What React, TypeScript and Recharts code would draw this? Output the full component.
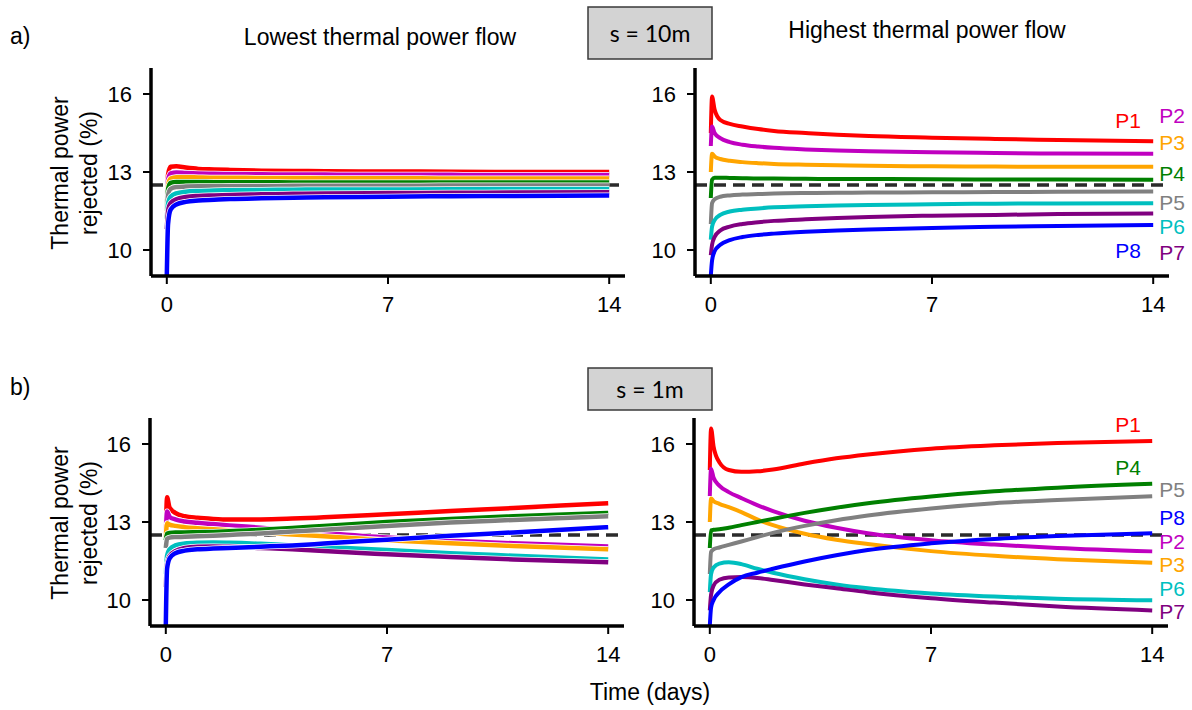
import { LineChart, Line, XAxis, YAxis, ReferenceLine } from 'recharts';

// time points (days) shared by every curve
const days = [0, 0.04, 0.12, 0.3, 0.6, 1, 1.5, 2, 3, 4, 5, 7, 9, 11, 14];

const seriesNames = ['P1', 'P2', 'P3', 'P4', 'P5', 'P6', 'P7', 'P8'];
const seriesColors = ['#ff0000', '#c000c0', '#ffa500', '#008000', '#808080', '#00bfbf', '#800080', '#0000ff'];

const xTicks = [0, 7, 14];
const yTicks = [10, 13, 16];
const threshold = 12.5;

// a) s = 10m, lowest thermal power flow
const tenLow = [
  [12.0, 12.9, 13.2, 13.22, 13.17, 13.12, 13.1, 13.08, 13.05, 13.04, 13.03, 13.02, 13.01, 13.0, 13.0],
  [11.9, 12.7, 12.95, 12.98, 12.96, 12.94, 12.93, 12.92, 12.91, 12.9, 12.9, 12.89, 12.89, 12.88, 12.88],
  [11.8, 12.5, 12.75, 12.8, 12.8, 12.79, 12.78, 12.78, 12.77, 12.77, 12.76, 12.76, 12.75, 12.75, 12.75],
  [11.7, 12.35, 12.58, 12.62, 12.62, 12.62, 12.61, 12.61, 12.61, 12.6, 12.6, 12.6, 12.6, 12.6, 12.6],
  [11.5, 12.1, 12.35, 12.42, 12.44, 12.45, 12.45, 12.46, 12.46, 12.47, 12.47, 12.47, 12.48, 12.48, 12.48],
  [11.2, 11.8, 12.05, 12.18, 12.24, 12.27, 12.29, 12.3, 12.31, 12.32, 12.33, 12.33, 12.34, 12.35, 12.35],
  [10.8, 11.5, 11.8, 11.95, 12.04, 12.08, 12.1, 12.12, 12.14, 12.16, 12.17, 12.19, 12.2, 12.21, 12.22],
  [9.0, 11.0, 11.55, 11.75, 11.85, 11.9, 11.93, 11.96, 11.99, 12.01, 12.03, 12.05, 12.07, 12.08, 12.1],
];

// a) s = 10m, highest thermal power flow
const tenHigh = [
  [14.5, 15.9, 15.4, 15.0, 14.85, 14.75, 14.65, 14.58, 14.5, 14.43, 14.38, 14.32, 14.27, 14.23, 14.18],
  [14.0, 14.75, 14.5, 14.3, 14.15, 14.05, 13.98, 13.93, 13.87, 13.83, 13.8, 13.76, 13.73, 13.71, 13.7],
  [13.0, 13.7, 13.6, 13.5, 13.43, 13.38, 13.34, 13.31, 13.28, 13.26, 13.24, 13.22, 13.21, 13.2, 13.2],
  [12.0, 12.7, 12.78, 12.78, 12.77, 12.76, 12.75, 12.75, 12.74, 12.73, 12.73, 12.72, 12.71, 12.71, 12.7],
  [11.0, 11.8, 11.95, 12.05, 12.1, 12.13, 12.15, 12.17, 12.19, 12.2, 12.21, 12.22, 12.23, 12.24, 12.25],
  [10.4, 10.9, 11.15, 11.35, 11.48, 11.55, 11.6, 11.64, 11.68, 11.71, 11.73, 11.76, 11.78, 11.79, 11.8],
  [9.8, 10.2, 10.5, 10.75, 10.9, 11.0, 11.07, 11.12, 11.18, 11.23, 11.27, 11.32, 11.35, 11.38, 11.4],
  [9.0, 9.6, 9.95, 10.2, 10.38, 10.5, 10.58, 10.63, 10.7, 10.75, 10.79, 10.85, 10.89, 10.92, 10.96],
];

// b) s = 1m, lowest thermal power flow
const oneLow = [
  [12.5, 13.95, 13.55, 13.35, 13.22, 13.16, 13.12, 13.1, 13.1, 13.13, 13.18, 13.3, 13.42, 13.54, 13.72],
  [12.5, 13.4, 13.2, 13.1, 13.02, 12.97, 12.92, 12.87, 12.78, 12.68, 12.58, 12.4, 12.28, 12.18, 12.06],
  [12.4, 12.95, 12.9, 12.85, 12.8, 12.76, 12.72, 12.68, 12.6, 12.52, 12.45, 12.3, 12.18, 12.08, 11.95],
  [12.3, 12.55, 12.58, 12.6, 12.6, 12.61, 12.62, 12.64, 12.7, 12.77, 12.85, 13.0, 13.12, 13.22, 13.35],
  [12.0, 12.35, 12.4, 12.42, 12.43, 12.45, 12.47, 12.5, 12.56, 12.63, 12.7, 12.85, 12.98, 13.08, 13.22],
  [11.0, 11.7, 11.95, 12.1, 12.17, 12.2, 12.21, 12.2, 12.16, 12.1, 12.04, 11.92, 11.8, 11.7, 11.56],
  [10.5, 11.4, 11.7, 11.88, 12.0, 12.05, 12.06, 12.05, 12.0, 11.95, 11.88, 11.76, 11.65, 11.56, 11.45],
  [9.0, 11.2, 11.6, 11.8, 11.9, 11.95, 11.98, 12.0, 12.05, 12.1, 12.17, 12.32, 12.47, 12.6, 12.8],
];

// b) s = 1m, highest thermal power flow
const oneHigh = [
  [15.0, 16.6, 15.9, 15.3, 15.0, 14.93, 14.95, 15.02, 15.25, 15.45, 15.6, 15.82, 15.95, 16.04, 16.12],
  [14.0, 15.05, 14.7, 14.4, 14.15, 13.92, 13.65, 13.42, 13.05, 12.78, 12.57, 12.3, 12.13, 12.0, 11.87],
  [13.0, 13.9, 13.8, 13.7, 13.57, 13.38, 13.1, 12.88, 12.55, 12.32, 12.15, 11.88, 11.7, 11.57, 11.43],
  [12.0, 12.68, 12.7, 12.72, 12.78, 12.88, 13.0, 13.12, 13.35, 13.55, 13.72, 13.98, 14.18, 14.32, 14.47],
  [11.0, 11.85, 11.95, 12.02, 12.12, 12.25, 12.42, 12.58, 12.85, 13.07, 13.25, 13.52, 13.72, 13.85, 13.99],
  [10.3, 11.0, 11.25, 11.4, 11.45, 11.38, 11.2, 11.05, 10.8, 10.6, 10.45, 10.25, 10.13, 10.05, 9.99],
  [9.6, 10.2, 10.55, 10.78, 10.87, 10.88, 10.85, 10.77, 10.6, 10.45, 10.3, 10.07, 9.9, 9.75, 9.6],
  [9.0, 9.7, 10.0, 10.3, 10.6, 10.88, 11.05, 11.2, 11.48, 11.72, 11.92, 12.18, 12.35, 12.46, 12.57],
];

const font = '"Liberation Sans", Arial, sans-serif';

function rows(values: number[][]) {
  return days.map((d, i) => {
    const r: Record<string, number> = { day: d };
    values.forEach((s, k) => { r[seriesNames[k]] = s[i]; });
    return r;
  });
}

const Y_W = 70;
const M_TOP = 10;
const X_H = 44;

function Panel({ values, plotLeft, plotRight, plotTop, plotBottom, halo }: {
  values: number[][]; plotLeft: number; plotRight: number; plotTop: number; plotBottom: number; halo: boolean;
}) {
  const width = Y_W + (plotRight - plotLeft) + 6;
  const height = M_TOP + (plotBottom - plotTop) + X_H;
  const lines = seriesNames.flatMap((name, k) => {
    const out = [];
    if (halo) {
      out.push(
        <Line key={name + '-halo'} dataKey={name} type="monotone" stroke="#ffffff" strokeWidth={6}
          dot={false} activeDot={false} isAnimationActive={false} />
      );
    }
    out.push(
      <Line key={name} dataKey={name} type="monotone" stroke={seriesColors[k]} strokeWidth={halo ? 4.5 : 4}
        dot={false} activeDot={false} isAnimationActive={false} />
    );
    return out;
  });
  return (
    <div style={{ position: 'absolute', left: plotLeft - Y_W, top: plotTop - M_TOP }}>
      <LineChart width={width} height={height} data={rows(values)} margin={{ top: M_TOP, right: 6, bottom: 0, left: 0 }}>
        <XAxis
          dataKey="day"
          type="number"
          domain={[-0.5, 14.5]}
          ticks={xTicks}
          height={X_H}
          tickSize={8}
          tickMargin={12}
          axisLine={{ stroke: '#000', strokeWidth: 3.5 }}
          tickLine={{ stroke: '#000', strokeWidth: 2 }}
          tick={{ fontSize: 22, fill: '#000', fontFamily: font }}
        />
        <YAxis
          domain={[9, 17]}
          ticks={yTicks}
          width={Y_W}
          tickSize={8}
          tickMargin={11}
          axisLine={{ stroke: '#000', strokeWidth: 3.5 }}
          tickLine={{ stroke: '#000', strokeWidth: 2 }}
          tick={{ fontSize: 22, fill: '#000', fontFamily: font }}
        />
        <ReferenceLine y={threshold} stroke="#2b2b2b" strokeWidth={3.5} strokeDasharray="12 7" />
        {lines}
      </LineChart>
    </div>
  );
}

const labelsTen = [
  { t: 'P1', x: 1128, y: 120 }, { t: 'P2', x: 1172, y: 115 }, { t: 'P3', x: 1172, y: 142 }, { t: 'P4', x: 1172, y: 173 },
  { t: 'P5', x: 1172, y: 202 }, { t: 'P6', x: 1172, y: 226 }, { t: 'P7', x: 1172, y: 252 }, { t: 'P8', x: 1128, y: 250 },
];
const labelsOne = [
  { t: 'P1', x: 1128, y: 424 }, { t: 'P4', x: 1128, y: 467 }, { t: 'P5', x: 1172, y: 489 }, { t: 'P8', x: 1172, y: 517 },
  { t: 'P2', x: 1172, y: 541 }, { t: 'P3', x: 1172, y: 564 }, { t: 'P6', x: 1172, y: 588 }, { t: 'P7', x: 1172, y: 611 },
];

function colorOf(name: string) {
  return seriesColors[seriesNames.indexOf(name)];
}

function YLabel({ cy }: { cy: number }) {
  return (
    <>
      <text transform={`translate(68,${cy}) rotate(-90)`} textAnchor="middle" fontSize={23} fontFamily={font}>Thermal power</text>
      <text transform={`translate(97,${cy}) rotate(-90)`} textAnchor="middle" fontSize={23} fontFamily={font}>rejected (%)</text>
    </>
  );
}

export default function App() {
  return (
    <div style={{ position: 'absolute', left: 0, top: 0, width: 1192, height: 710, background: '#fff', overflow: 'hidden' }}>
      <Panel values={tenLow} plotLeft={151} plotRight={625} plotTop={68} plotBottom={276} halo />
      <Panel values={tenHigh} plotLeft={695} plotRight={1169} plotTop={68} plotBottom={276} halo={false} />
      <Panel values={oneLow} plotLeft={150} plotRight={624} plotTop={418} plotBottom={626} halo />
      <Panel values={oneHigh} plotLeft={694} plotRight={1168} plotTop={418} plotBottom={626} halo={false} />
      <svg width={1192} height={710} style={{ position: 'absolute', left: 0, top: 0, pointerEvents: 'none' }}>
        <text x={10} y={44} fontSize={23} fontFamily={font}>a)</text>
        <text x={10} y={395} fontSize={23} fontFamily={font}>b)</text>
        <text x={380} y={45} textAnchor="middle" fontSize={23} fontFamily={font}>Lowest thermal power flow</text>
        <text x={927} y={38} textAnchor="middle" fontSize={23} fontFamily={font}>Highest thermal power flow</text>
        <rect x={588} y={7} width={124} height={52} fill="#d3d3d3" stroke="#3a3a3a" strokeWidth={1.5} />
        <text x={650} y={33} textAnchor="middle" dominantBaseline="central" fontSize={23} fontFamily="Lato, 'Open Sans', sans-serif">s = 10m</text>
        <rect x={588} y={368} width={124} height={42} fill="#d3d3d3" stroke="#3a3a3a" strokeWidth={1.5} />
        <text x={650} y={389} textAnchor="middle" dominantBaseline="central" fontSize={23} fontFamily="Lato, 'Open Sans', sans-serif">s = 1m</text>
        <YLabel cy={173} />
        <YLabel cy={523} />
        <text x={650} y={700} textAnchor="middle" fontSize={23} fontFamily={font}>Time (days)</text>
        {labelsTen.concat(labelsOne).map((l, i) => (
          <text key={i} x={l.x} y={l.y} textAnchor="middle" dominantBaseline="central" fontSize={21} fontFamily={font} fill={colorOf(l.t)}>{l.t}</text>
        ))}
      </svg>
    </div>
  );
}
